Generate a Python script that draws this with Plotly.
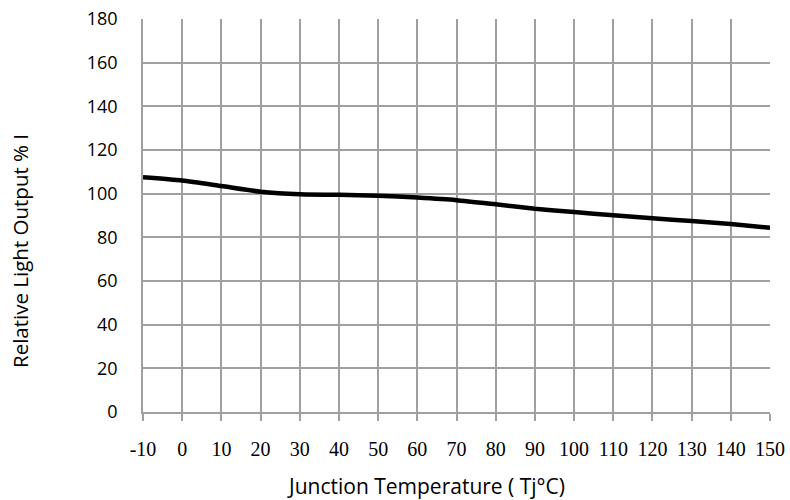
import plotly.graph_objects as go

temps = [-10, 0, 10, 20, 30, 40, 50, 60, 70, 80, 90, 100, 110, 120, 130, 140, 150]
light = [107.5, 106.0, 103.5, 100.9, 99.7, 99.5, 99.1, 98.2, 97.0, 95.1, 93.1, 91.6, 90.1, 88.7, 87.5, 86.1, 84.4]
x_ticks = list(range(-10, 151, 10))
y_ticks = list(range(0, 181, 20))

fig = go.Figure()
fig.add_trace(go.Scatter(x=temps, y=light, mode="lines",
                         line=dict(color="black", width=4.5, shape="spline", smoothing=0.6),
                         hoverinfo="skip"))

grid = "#a0a0a0"
fig.update_layout(
    width=790, height=500,
    margin=dict(l=143, r=20, t=19, b=88, autoexpand=False),
    paper_bgcolor="white", plot_bgcolor="white",
    showlegend=False,
    xaxis=dict(range=[-10, 150], tickvals=x_ticks, ticktext=[str(v) for v in x_ticks],
               showgrid=True, gridcolor=grid, gridwidth=1.5,
               showline=True, linecolor=grid, linewidth=1.5,
               ticks="outside", ticklen=7, tickcolor=grid, tickwidth=1.5,
               ticklabelstandoff=11, automargin=False,
               tickfont=dict(family="Liberation Serif", size=20, color="black"),
               zeroline=False, mirror=False),
    yaxis=dict(range=[0, 180], tickvals=y_ticks,
               showgrid=True, gridcolor=grid, gridwidth=1.5,
               showline=True, linecolor=grid, linewidth=1.5,
               ticks="", ticklabelstandoff=20, automargin=False,
               tickfont=dict(family="Open Sans", size=18, color="black"),
               zeroline=False),
    font=dict(family="Open Sans", color="black"),
)
fig.add_annotation(text="Junction Temperature ( Tj°C)", xref="paper", yref="paper",
                   x=0.452, y=-0.188, xanchor="center", yanchor="middle", showarrow=False,
                   font=dict(family="Open Sans", size=21, color="black"))
fig.add_annotation(text="Relative Light Output % I", xref="paper", yref="paper",
                   x=-0.196, y=0.41, xanchor="center", yanchor="middle", showarrow=False,
                   textangle=-90,
                   font=dict(family="Open Sans", size=20.5, color="black"))
fig.write_html("out.html", config={"displayModeBar": False},
               post_script="document.body.style.margin='0';"
                           "document.body.style.overflow='hidden';"
                           "document.documentElement.style.overflow='hidden';")
